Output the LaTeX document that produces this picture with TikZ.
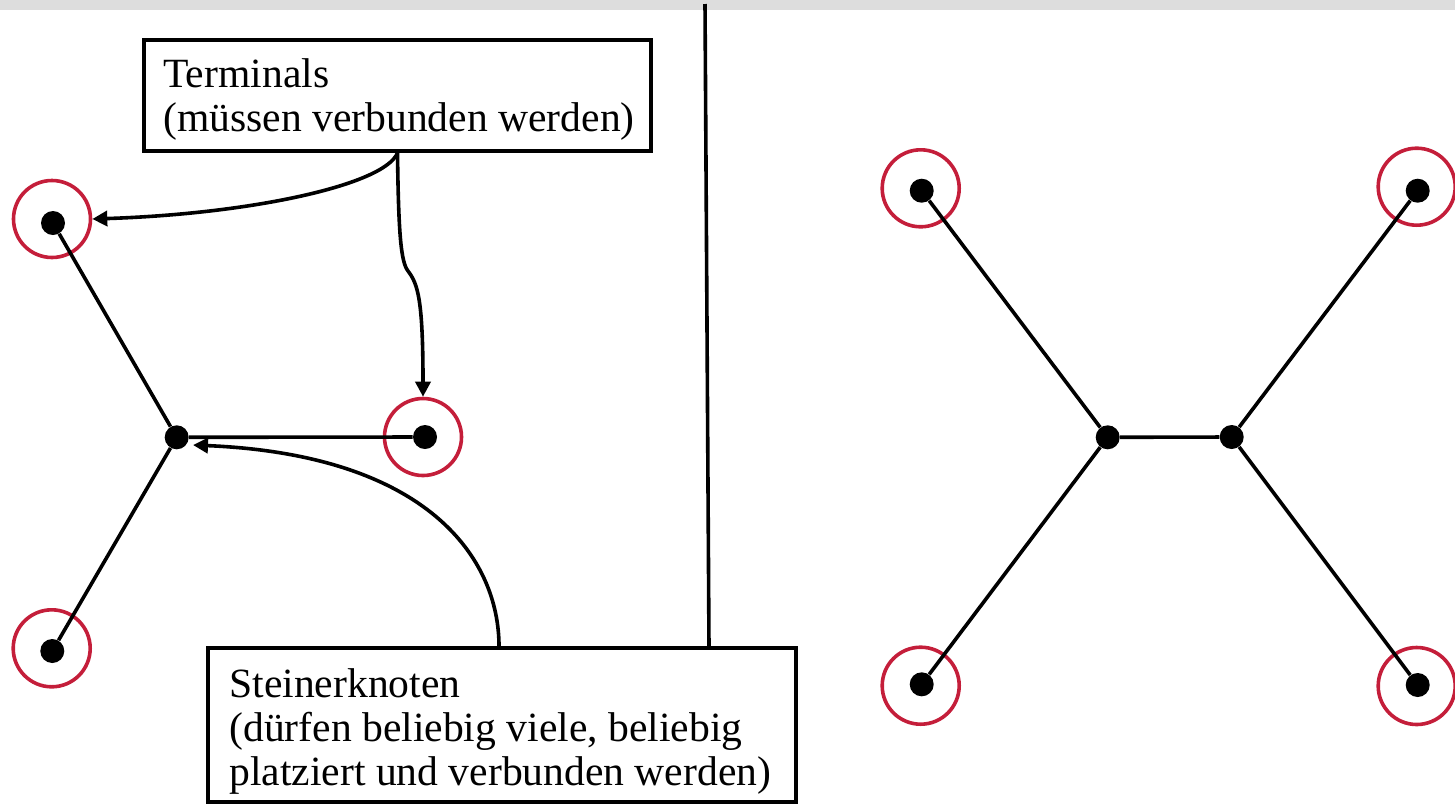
\documentclass[tikz,border=0pt]{standalone}
\usepackage{fontspec}
\setmainfont{Liberation Serif}
\usetikzlibrary{arrows.meta}
\definecolor{ringred}{RGB}{196,30,58}
\definecolor{bandgray}{RGB}{221,221,221}
\tikzset{
  dot/.style={circle,fill=black,inner sep=0pt,minimum size=12pt},
  ring/.style={circle,draw=ringred,line width=1.8pt,inner sep=0pt,minimum size=38.5pt},
  edge/.style={line width=1.8pt},
  pointer/.style={line width=1.8pt,-{Triangle[length=7.5pt,width=7.5pt]}},
  labelbox/.style={draw,line width=1.8pt,inner sep=0pt,fill=white},
  txt/.style={anchor=base west,inner sep=0pt,font=\fontsize{20.8pt}{22pt}\selectfont}
}
\begin{document}
\begin{tikzpicture}[x=0.5pt,y=-0.5pt]
\useasboundingbox (0,0) rectangle (1455,804);
\fill[bandgray] (0,0) rectangle (1455,10);
% divider
\coordinate (dtop) at (705,4);
\coordinate (dbot) at (709,648);
\draw[edge] (dtop) -- (dbot);
% left graph
\node[ring] (rA) at (52,219) {};
\node[ring] (rB) at (423,437) {};
\node[ring] (rC) at (51.7,648.3) {};
\node[dot] (A) at (53,223) {};
\node[dot] (S) at (176.7,437.3) {};
\node[dot] (B) at (425,437) {};
\node[dot] (C) at (52.3,651) {};
\draw[edge] (A) -- (S);
\draw[edge] (S) -- (B);
\draw[edge] (S) -- (C);
% right graph
\node[ring] (rTL) at (920.7,188.3) {};
\node[ring] (rTR) at (1416.7,186.7) {};
\node[ring] (rBL) at (920.7,685.7) {};
\node[ring] (rBR) at (1416.7,686) {};
\node[dot] (TL) at (921.7,190.7) {};
\node[dot] (TR) at (1417.7,190.7) {};
\node[dot] (BL) at (921.7,684.3) {};
\node[dot] (BR) at (1417.7,685) {};
\node[dot] (SL) at (1107.7,437.3) {};
\node[dot] (SR) at (1231.7,437) {};
\draw[edge] (TL) -- (SL);
\draw[edge] (BL) -- (SL);
\draw[edge] (SL) -- (SR);
\draw[edge] (TR) -- (SR);
\draw[edge] (BR) -- (SR);
% boxes
\node[labelbox,minimum width=253.5pt,minimum height=55.5pt] (term) at (397.5,95.5) {};
\node[txt] at (163,87) {Terminals};
\node[txt] at (163,131) {(müssen verbunden werden)};
\node[labelbox,minimum width=294pt,minimum height=77pt] (stein) at (502,725) {};
\node[txt] at (229,697) {Steinerknoten};
\node[txt] at (229,741) {(dürfen beliebig viele, beliebig};
\node[txt] at (229,785) {platziert und verbunden werden)};
% pointers
\coordinate (sTip) at (193,445);
\draw[pointer] (term.south) .. controls (385,185) and (250,214) .. (rA.east);
\draw[pointer] (term.south) .. controls (398.5,235) and (401,262) .. (408,271)
   .. controls (418,284) and (423,300) .. (rB.north);
\draw[pointer] ([xshift=-1.5pt]stein.north) .. controls (499,560) and (430,455) .. (sTip);
\end{tikzpicture}
\end{document}
